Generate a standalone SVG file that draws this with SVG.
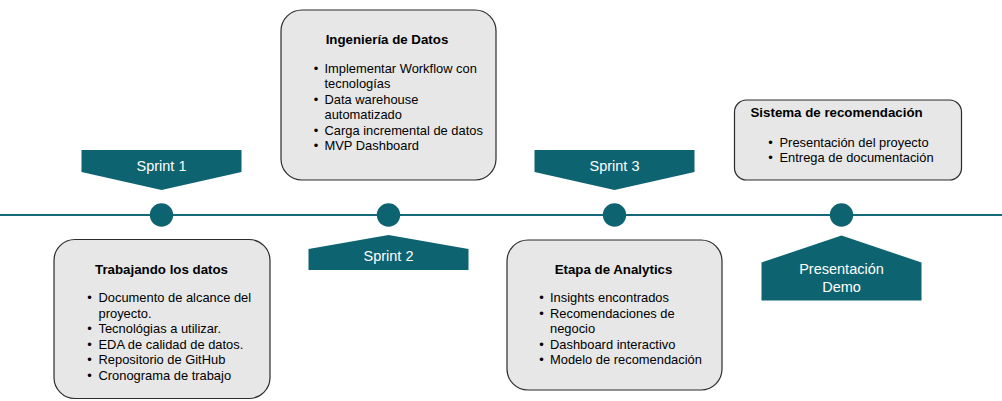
<svg xmlns="http://www.w3.org/2000/svg" width="1002" height="401" viewBox="0 0 1002 401">
<style>
.teal{fill:#0e6371}
.box{fill:#e7e7e7;stroke:#2b2b2b;stroke-width:1.2}
.lbl{font-family:"Liberation Sans",Arial,sans-serif;font-size:14.5px;fill:#ffffff;text-anchor:middle}
.ttl{font-family:"Liberation Sans",Arial,sans-serif;font-size:13.3px;font-weight:bold;fill:#000}
.itm{font-family:"Liberation Sans",Arial,sans-serif;font-size:12.9px;fill:#000}
.bul{font-family:"Liberation Sans",Arial,sans-serif;font-size:12.9px;fill:#000;text-anchor:middle}
</style>
<rect width="1002" height="401" fill="#ffffff"/>
<g id="connectors">
<line x1="0" y1="215" x2="1002" y2="215" stroke="#15697a" stroke-width="2"/>
</g>
<g id="milestone1">
<circle class="teal" cx="161.5" cy="215" r="11.7"/>
<polygon class="teal" points="81.5,150 241.5,150 241.5,172 161.5,190 81.5,172"/>
<text class="lbl" x="161.5" y="171">Sprint 1</text>
</g>
<g id="milestone2">
<circle class="teal" cx="388.5" cy="215" r="11.7"/>
<polygon class="teal" points="388.5,235 468.5,249 468.5,270 308.5,270 308.5,249"/>
<text class="lbl" x="388.5" y="260.5">Sprint 2</text>
</g>
<g id="milestone3">
<circle class="teal" cx="614.5" cy="215" r="11.7"/>
<polygon class="teal" points="534.5,150 694.5,150 694.5,172 614.5,190 534.5,172"/>
<text class="lbl" x="614.5" y="171">Sprint 3</text>
</g>
<g id="milestone4">
<circle class="teal" cx="841.5" cy="215" r="11.7"/>
<polygon class="teal" points="841.5,235.5 921.5,262.5 921.5,300.5 761.5,300.5 761.5,262.5"/>
<text class="lbl" x="841.5" y="273.5">Presentación</text>
<text class="lbl" x="841.5" y="291.5">Demo</text>
</g>
<g id="box1">
<rect class="box" x="54" y="239.5" width="216" height="159" rx="21"/>
<text class="ttl" x="161.5" y="273.5" text-anchor="middle">Trabajando los datos</text>
<text class="bul" x="89.5" y="302">•</text><text class="itm" x="98.5" y="302">Documento de alcance del</text>
<text class="itm" x="98.5" y="317.5">proyecto.</text>
<text class="bul" x="89.5" y="333">•</text><text class="itm" x="98.5" y="333">Tecnológias a utilizar.</text>
<text class="bul" x="89.5" y="348.5">•</text><text class="itm" x="98.5" y="348.5">EDA de calidad de datos.</text>
<text class="bul" x="89.5" y="364">•</text><text class="itm" x="98.5" y="364">Repositorio de GitHub</text>
<text class="bul" x="89.5" y="379.5">•</text><text class="itm" x="98.5" y="379.5">Cronograma de trabajo</text>
</g>
<g id="box2">
<rect class="box" x="281" y="10" width="215" height="170" rx="21"/>
<text class="ttl" x="387" y="43.5" text-anchor="middle">Ingeniería de Datos</text>
<text class="bul" x="316" y="72.5">•</text><text class="itm" x="324.5" y="72.5">Implementar Workflow con</text>
<text class="itm" x="324.5" y="88">tecnologías</text>
<text class="bul" x="316" y="103.5">•</text><text class="itm" x="324.5" y="103.5">Data warehouse</text>
<text class="itm" x="324.5" y="119">automatizado</text>
<text class="bul" x="316" y="134.5">•</text><text class="itm" x="324.5" y="134.5">Carga incremental de datos</text>
<text class="bul" x="316" y="150">•</text><text class="itm" x="324.5" y="150">MVP Dashboard</text>
</g>
<g id="box3">
<rect class="box" x="507" y="240" width="215" height="150" rx="21"/>
<text class="ttl" x="613.5" y="273.5" text-anchor="middle">Etapa de Analytics</text>
<text class="bul" x="541.5" y="302">•</text><text class="itm" x="550" y="302">Insights encontrados</text>
<text class="bul" x="541.5" y="317.5">•</text><text class="itm" x="550" y="317.5">Recomendaciones de</text>
<text class="itm" x="550" y="333">negocio</text>
<text class="bul" x="541.5" y="348.5">•</text><text class="itm" x="550" y="348.5">Dashboard interactivo</text>
<text class="bul" x="541.5" y="364">•</text><text class="itm" x="550" y="364">Modelo de recomendación</text>
</g>
<g id="box4">
<rect class="box" x="734.5" y="100" width="227" height="80" rx="12"/>
<text class="ttl" x="750.5" y="117">Sistema de recomendación</text>
<text class="bul" x="770.5" y="146.5">•</text><text class="itm" x="779.5" y="146.5">Presentación del proyecto</text>
<text class="bul" x="770.5" y="162">•</text><text class="itm" x="779.5" y="162">Entrega de documentación</text>
</g>
</svg>
